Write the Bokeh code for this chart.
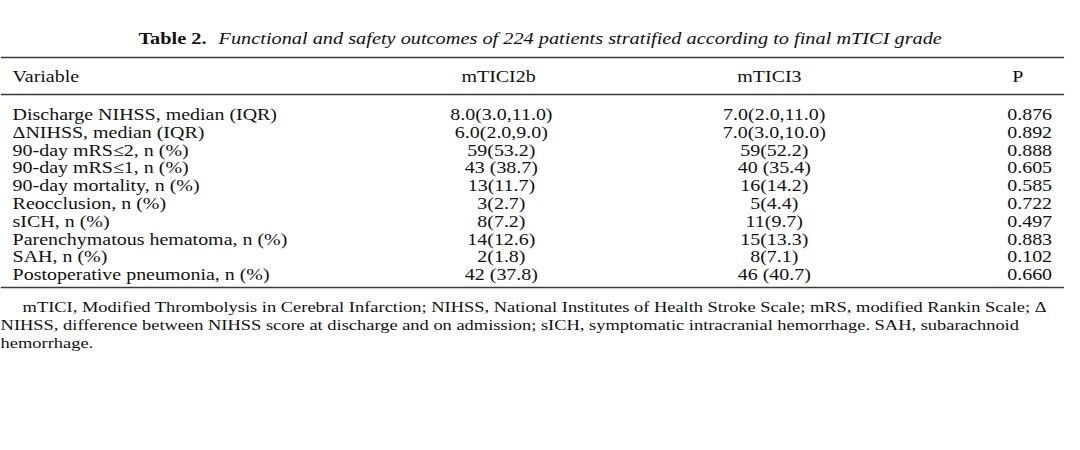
from bokeh.plotting import figure
from bokeh.models import ColumnDataSource, Range1d, InlineStyleSheet
from bokeh.core.properties import value
from bokeh.embed import file_html
from bokeh.resources import INLINE

# ---- data ----
title_bold = "Table 2."
title_italic = "Functional and safety outcomes of 224 patients stratified according to final mTICI grade"
headers = ["Variable", "mTICI2b", "mTICI3", "P"]
variables = [
    "Discharge NIHSS, median (IQR)",
    "\u0394NIHSS, median (IQR)",
    "90-day mRS\u22642, n (%)",
    "90-day mRS\u22641, n (%)",
    "90-day mortality, n (%)",
    "Reocclusion, n (%)",
    "sICH, n (%)",
    "Parenchymatous hematoma, n (%)",
    "SAH, n (%)",
    "Postoperative pneumonia, n (%)",
]
mtici2b = ["8.0(3.0,11.0)", "6.0(2.0,9.0)", "59(53.2)", "43 (38.7)", "13(11.7)",
           "3(2.7)", "8(7.2)", "14(12.6)", "2(1.8)", "42 (37.8)"]
mtici3 = ["7.0(2.0,11.0)", "7.0(3.0,10.0)", "59(52.2)", "40 (35.4)", "16(14.2)",
          "5(4.4)", "11(9.7)", "15(13.3)", "8(7.1)", "46 (40.7)"]
p_values = ["0.876", "0.892", "0.888", "0.605", "0.585",
            "0.722", "0.497", "0.883", "0.102", "0.660"]
footnotes = [
    "mTICI, Modified Thrombolysis in Cerebral Infarction; NIHSS, National Institutes of Health Stroke Scale; mRS, modified Rankin Scale; \u0394",
    "NIHSS, difference between NIHSS score at discharge and on admission; sICH, symptomatic intracranial hemorrhage. SAH, subarachnoid",
    "hemorrhage.",
]

# ---- layout ----
# The reference table is stretched horizontally (wide glyphs, tight rows);
# the figure is drawn narrower and its canvas widened with a CSS scaleX.
SX = 1.21
FULL_W, FULL_H = 1064, 434
FONT = value("Liberation Serif")
FS = "16.5px"
TXT = "#111111"
RULE = "#3a3a3a"

p = figure(width=round(FULL_W / SX), height=FULL_H, output_backend="svg",
           toolbar_location=None,
           x_range=Range1d(0, FULL_W), y_range=Range1d(FULL_H, 0),
           x_axis_type=None, y_axis_type=None, min_border=0)
p.stylesheets = [InlineStyleSheet(css=(
    ":host { overflow: visible !important; }\n"
    f".bk-Canvas {{ transform: scaleX({SX}); transform-origin: 0 0; overflow: visible; }}"
))]
p.grid.visible = False
p.outline_line_color = None
p.background_fill_color = "white"
p.border_fill_color = "white"

# title
p.text(x=[206], y=[38], text=[title_bold], text_font=FONT, text_font_size="16.8px",
       text_font_style="bold", text_align="right", text_baseline="middle", text_color=TXT)
p.text(x=[218], y=[38], text=[title_italic], text_font=FONT, text_font_size="16.8px",
       text_font_style="italic", text_align="left", text_baseline="middle", text_color=TXT)

# rules
top_rule, head_rule, bottom_rule = 57, 94, 287
p.segment(x0=[0, 0, 0], x1=[FULL_W] * 3, y0=[top_rule, head_rule, bottom_rule],
          y1=[top_rule, head_rule, bottom_rule], line_color=RULE, line_width=1.5)

# header
col_x = [12, 461, 737, 1012]
p.text(x=col_x, y=[76] * 4, text=headers, text_font=FONT, text_font_size=FS,
       text_align="left", text_baseline="middle", text_color=TXT)

# body
row0, step = 114, 17.8
ys = [row0 + i * step for i in range(len(variables))]
src = ColumnDataSource(dict(y=ys, var=variables, a=mtici2b, b=mtici3, pv=p_values))
p.text(x=12, y="y", text="var", source=src, text_font=FONT, text_font_size=FS,
       text_align="left", text_baseline="middle", text_color=TXT)
p.text(x=501, y="y", text="a", source=src, text_font=FONT, text_font_size=FS,
       text_align="center", text_baseline="middle", text_color=TXT)
p.text(x=774, y="y", text="b", source=src, text_font=FONT, text_font_size=FS,
       text_align="center", text_baseline="middle", text_color=TXT)
p.text(x=1007, y="y", text="pv", source=src, text_font=FONT, text_font_size=FS,
       text_align="left", text_baseline="middle", text_color=TXT)

# footnotes
fy0, fstep = 306, 18
p.text(x=[22, 0, 0], y=[fy0 + i * fstep for i in range(3)], text=footnotes,
       text_font=FONT, text_font_size="15.25px", text_align="left", text_baseline="middle",
       text_color=TXT)

open("out.html", "w").write(file_html(p, INLINE))
